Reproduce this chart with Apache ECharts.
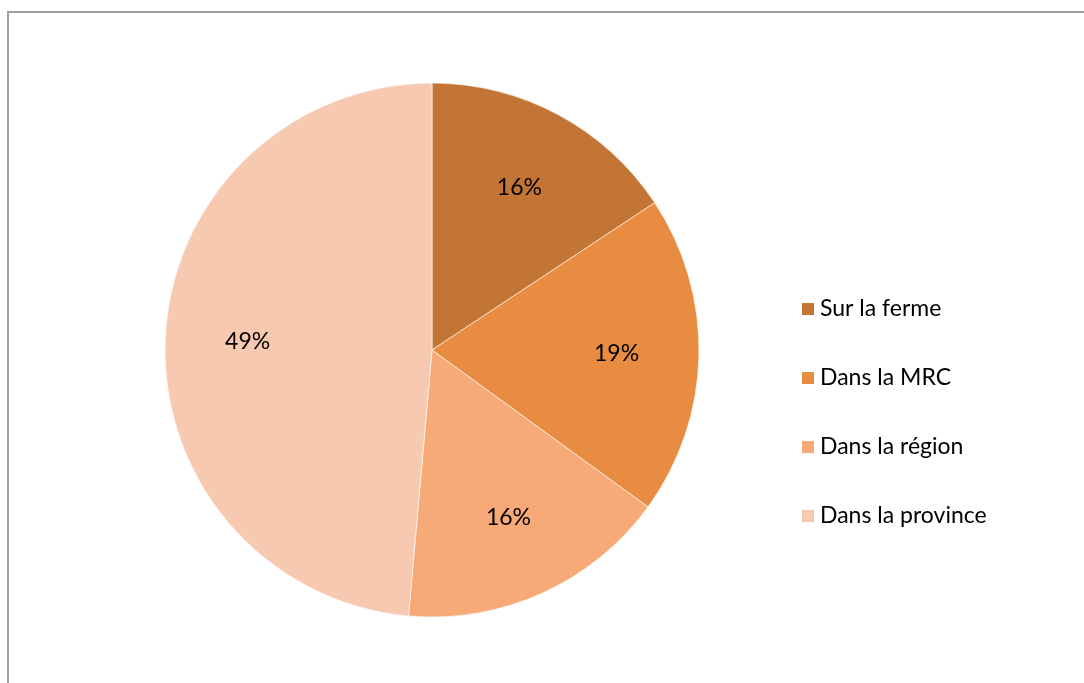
<!DOCTYPE html>
<html>
<head>
<meta charset="utf-8">
<style>
  html, body { margin: 0; padding: 0; background: #fff; }
  #container { width: 1084px; height: 683px; }
</style>
</head>
<body>
<div id="container"></div>
<script src="https://cdn.jsdelivr.net/npm/echarts@6/dist/echarts.min.js"></script>
<script>
// lieux (ordre horaire depuis midi)
var categories = ['Sur la ferme', 'Dans la MRC', 'Dans la région', 'Dans la province'];
var values = [15.7, 19.3, 16.4, 48.6];
var colors = ['#C37535', '#E78C41', '#F7AA78', '#F8C9B1'];

var cx = 432, cy = 350, R = 267;
var font = 'Lato, "Noto Sans", sans-serif';

var pieData = categories.map(function (c, i) {
  return { name: c, value: values[i], itemStyle: { color: colors[i] } };
});

var chart = echarts.init(document.getElementById('container'));
chart.setOption({
  animation: false,
  legend: {
    orient: 'vertical',
    left: 795,
    top: 292,
    itemWidth: 14,
    itemHeight: 14,
    itemGap: 45,
    icon: 'rect',
    data: categories,
    textStyle: { fontFamily: font, fontSize: 23, lineHeight: 24, color: '#000' }
  },
  graphic: [{
    type: 'polyline',
    shape: { points: [[8, 700], [8, 12], [1100, 12]] },
    style: { stroke: '#a0a0a0', lineWidth: 2, fill: null },
    silent: true
  }],
  series: [{
    type: 'pie',
    center: [cx, cy],
    radius: [0, R],
    startAngle: 90,
    clockwise: true,
    data: pieData,
    label: { show: false },
    labelLine: { show: false },
    itemStyle: { borderColor: '#ffffff', borderWidth: 0.6 },
    emphasis: { disabled: true }
  }, {
    // anneau transparent qui sert seulement à placer les étiquettes
    type: 'pie',
    center: [cx, cy],
    radius: [R * 0.36, R],
    startAngle: 90,
    clockwise: true,
    silent: true,
    data: categories.map(function (c, i) {
      return { name: c, value: values[i] };
    }),
    itemStyle: { color: 'rgba(0,0,0,0)' },
    label: {
      show: true,
      position: 'inside',
      fontFamily: font,
      fontSize: 23,
      color: '#000',
      formatter: function (p) { return Math.round(p.percent) + '%'; }
    },
    labelLine: { show: false },
    emphasis: { disabled: true }
  }]
});
</script>
</body>
</html>
